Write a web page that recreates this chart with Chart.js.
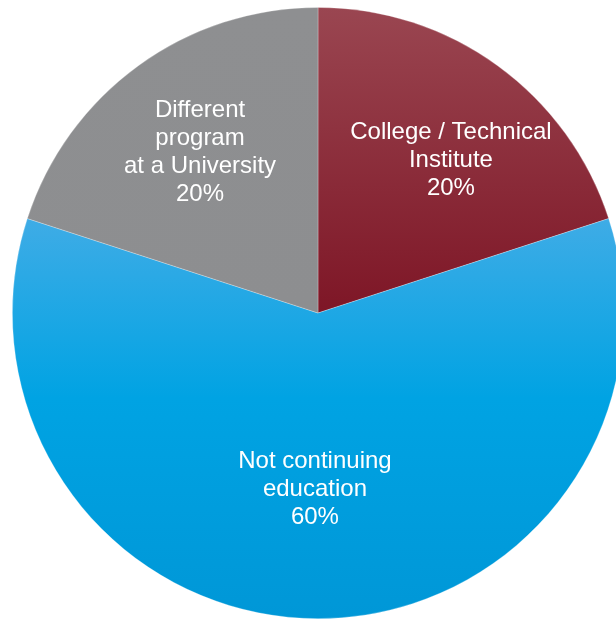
<!DOCTYPE html>
<html>
<head>
<meta charset="utf-8">
<script src="https://cdn.jsdelivr.net/npm/chart.js@4"></script>
<style>
  html, body { margin: 0; padding: 0; background: #fff; overflow: hidden; }
  #wrap { position: relative; width: 636px; height: 626px; }
</style>
</head>
<body>
<div id="wrap"><canvas id="c"></canvas></div>
<script>
// Where students go after the program
const categories = ['College / Technical Institute', 'Not continuing education', 'Different program at a University'];
const labelLines = [
  ['College / Technical', 'Institute'],
  ['Not continuing', 'education'],
  ['Different', 'program', 'at a University']
];
const shares = [20, 60, 20];

// Label anchor offsets, as fractions of the pie radius from its centre
const labelAnchors = [
  { fx: 0.435, fy: -0.50 },
  { fx: -0.01, fy: 0.578 },
  { fx: -0.386, fy: -0.526 }
];

function sliceFill(ctx) {
  const chart = ctx.chart;
  const area = chart.chartArea;
  if (!area) return '#888';
  const g = chart.ctx.createLinearGradient(0, area.top, 0, area.bottom);
  if (ctx.dataIndex === 0) {
    g.addColorStop(0, '#9a4651');
    g.addColorStop(0.5, '#7e1626');
    g.addColorStop(1, '#7a1222');
  } else if (ctx.dataIndex === 1) {
    g.addColorStop(0, '#5bb6e8');
    g.addColorStop(0.34, '#40ace6');
    g.addColorStop(0.64, '#00a3e3');
    g.addColorStop(1, '#0097d7');
  } else {
    g.addColorStop(0, '#8e8f91');
    g.addColorStop(1, '#8c8d8f');
  }
  return g;
}

const sliceLabels = {
  id: 'sliceLabels',
  afterDatasetsDraw(chart) {
    const ctx = chart.ctx;
    const meta = chart.getDatasetMeta(0);
    const total = shares.reduce((a, b) => a + b, 0);
    ctx.save();
    ctx.fillStyle = '#ffffff';
    ctx.font = '24px "Liberation Sans", Arial, sans-serif';
    ctx.textAlign = 'center';
    ctx.textBaseline = 'middle';
    const lh = 27.8;
    meta.data.forEach((arc, i) => {
      const R = arc.outerRadius;
      const cx = arc.x + labelAnchors[i].fx * R;
      const cy = arc.y + labelAnchors[i].fy * R;
      const lines = labelLines[i].concat([Math.round(shares[i] / total * 100) + '%']);
      const startY = cy - (lines.length - 1) * lh / 2;
      lines.forEach((t, k) => ctx.fillText(t, cx, startY + k * lh));
    });
    ctx.restore();
  }
};

new Chart(document.getElementById('c'), {
  type: 'pie',
  data: {
    labels: categories,
    datasets: [{
      data: shares,
      backgroundColor: sliceFill,
      borderColor: 'rgba(255,255,255,0.35)',
      borderWidth: 0.75
    }]
  },
  options: {
    responsive: true,
    maintainAspectRatio: false,
    animation: false,
    layout: { padding: 7 },
    plugins: {
      legend: { display: false },
      tooltip: { enabled: false }
    }
  },
  plugins: [sliceLabels]
});
</script>
</body>
</html>
